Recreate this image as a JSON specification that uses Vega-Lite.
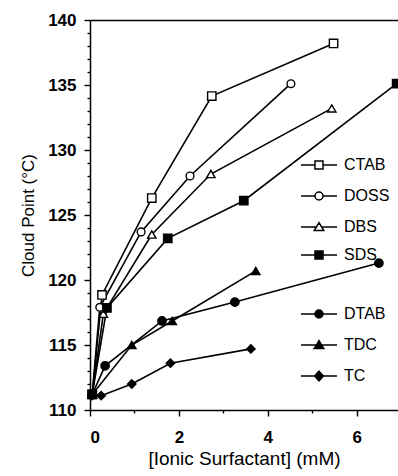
{
  "$schema": "https://vega.github.io/schema/vega-lite/v6.json",
  "width": 308,
  "height": 390,
  "autosize": {"type": "none"},
  "padding": {"left": 90, "top": 20, "right": 0, "bottom": 66},
  "background": "white",
  "config": {
    "view": {"stroke": null},
    "font": "Liberation Sans",
    "axis": {"domainColor": "black", "tickColor": "black", "labelColor": "black", "titleColor": "black", "grid": false}
  },
  "data": {
    "values": [
      {"series": "CTAB", "x": 0.05, "y": 111.2},
      {"series": "CTAB", "x": 0.27, "y": 118.85},
      {"series": "CTAB", "x": 1.39, "y": 126.3},
      {"series": "CTAB", "x": 2.74, "y": 134.15},
      {"series": "CTAB", "x": 5.48, "y": 138.2},
      {"series": "DOSS", "x": 0.05, "y": 111.2},
      {"series": "DOSS", "x": 0.22, "y": 117.9},
      {"series": "DOSS", "x": 1.15, "y": 123.7},
      {"series": "DOSS", "x": 2.25, "y": 128.0},
      {"series": "DOSS", "x": 4.52, "y": 135.1},
      {"series": "DBS", "x": 0.05, "y": 111.2},
      {"series": "DBS", "x": 0.3, "y": 117.4},
      {"series": "DBS", "x": 1.39, "y": 123.5},
      {"series": "DBS", "x": 2.72, "y": 128.15},
      {"series": "DBS", "x": 5.44, "y": 133.2},
      {"series": "SDS", "x": 0.05, "y": 111.2},
      {"series": "SDS", "x": 0.38, "y": 117.85},
      {"series": "SDS", "x": 1.75, "y": 123.2},
      {"series": "SDS", "x": 3.46, "y": 126.1},
      {"series": "SDS", "x": 6.9, "y": 135.1},
      {"series": "DTAB", "x": 0.05, "y": 111.2},
      {"series": "DTAB", "x": 0.34, "y": 113.4},
      {"series": "DTAB", "x": 1.62, "y": 116.85},
      {"series": "DTAB", "x": 3.26, "y": 118.3},
      {"series": "DTAB", "x": 6.5, "y": 121.3},
      {"series": "TDC", "x": 0.05, "y": 111.2},
      {"series": "TDC", "x": 0.94, "y": 115.0},
      {"series": "TDC", "x": 1.85, "y": 116.85},
      {"series": "TDC", "x": 3.73, "y": 120.7},
      {"series": "TC", "x": 0.05, "y": 111.1},
      {"series": "TC", "x": 0.25, "y": 111.1},
      {"series": "TC", "x": 0.94, "y": 112.0},
      {"series": "TC", "x": 1.81, "y": 113.6},
      {"series": "TC", "x": 3.62, "y": 114.7}
    ]
  },
  "layer": [
    {
      "mark": {"type": "line", "color": "black", "strokeWidth": 1.6},
      "encoding": {
        "x": {
          "field": "x", "type": "quantitative",
          "scale": {"domain": [0, 6.93], "nice": false, "zero": false},
          "axis": {"orient": "bottom", "values": [0, 0.5, 1, 1.5, 2, 2.5, 3, 3.5, 4, 4.5, 5, 5.5, 6, 6.5],
                   "format": "d",
                   "labelExpr": "datum.value % 2 === 0 ? datum.label : ''",
                   "tickSize": {"condition": {"test": "datum.value % 2 === 0", "value": 6}, "value": 3},
                   "tickWidth": 1.4, "domainWidth": 1.5,
                   "labelFontSize": 17, "labelFontWeight": "bold", "labelPadding": 13,
                   "title": "[Ionic Surfactant] (mM)", "titleFontSize": 19, "titleFontWeight": "normal", "titlePadding": 4}
        },
        "y": {
          "field": "y", "type": "quantitative",
          "scale": {"domain": [110, 140], "nice": false, "zero": false},
          "axis": {"orient": "left", "values": [110, 111, 112, 113, 114, 115, 116, 117, 118, 119, 120, 121, 122, 123, 124, 125, 126, 127, 128, 129, 130, 131, 132, 133, 134, 135, 136, 137, 138, 139, 140],
                   "format": "d",
                   "labelExpr": "datum.value % 5 === 0 ? datum.label : ''",
                   "tickSize": {"condition": {"test": "datum.value % 5 === 0", "value": 6}, "value": 3},
                   "tickWidth": 1.4, "domainWidth": 1.5,
                   "labelFontSize": 17, "labelFontWeight": "bold", "labelPadding": 8,
                   "title": "Cloud Point (°C)", "titleFontSize": 17, "titleFontWeight": "normal", "titlePadding": 10}
        },
        "detail": {"field": "series"}
      }
    },
    {
      "transform": [{"filter": {"field": "series", "equal": "CTAB"}}],
      "mark": {"type": "point", "shape": "square", "fill": "white", "stroke": "black", "strokeWidth": 1.4, "size": 70, "opacity": 1},
      "encoding": {
        "x": {"field": "x", "type": "quantitative", "axis": null},
        "y": {"field": "y", "type": "quantitative", "axis": null}
      }
    },
    {
      "transform": [{"filter": {"field": "series", "equal": "DOSS"}}],
      "mark": {"type": "point", "shape": "circle", "fill": "white", "stroke": "black", "strokeWidth": 1.4, "size": 60, "opacity": 1},
      "encoding": {
        "x": {"field": "x", "type": "quantitative", "axis": null},
        "y": {"field": "y", "type": "quantitative", "axis": null}
      }
    },
    {
      "transform": [{"filter": {"field": "series", "equal": "DBS"}}],
      "mark": {"type": "point", "shape": "triangle-up", "fill": "white", "stroke": "black", "strokeWidth": 1.4, "size": 70, "opacity": 1},
      "encoding": {
        "x": {"field": "x", "type": "quantitative", "axis": null},
        "y": {"field": "y", "type": "quantitative", "axis": null}
      }
    },
    {
      "transform": [{"filter": {"field": "series", "equal": "SDS"}}],
      "mark": {"type": "point", "shape": "square", "fill": "black", "stroke": "black", "strokeWidth": 1.4, "size": 70, "opacity": 1},
      "encoding": {
        "x": {"field": "x", "type": "quantitative", "axis": null},
        "y": {"field": "y", "type": "quantitative", "axis": null}
      }
    },
    {
      "transform": [{"filter": {"field": "series", "equal": "DTAB"}}],
      "mark": {"type": "point", "shape": "circle", "fill": "black", "stroke": "black", "strokeWidth": 1.4, "size": 70, "opacity": 1},
      "encoding": {
        "x": {"field": "x", "type": "quantitative", "axis": null},
        "y": {"field": "y", "type": "quantitative", "axis": null}
      }
    },
    {
      "transform": [{"filter": {"field": "series", "equal": "TDC"}}],
      "mark": {"type": "point", "shape": "triangle-up", "fill": "black", "stroke": "black", "strokeWidth": 1.4, "size": 70, "opacity": 1},
      "encoding": {
        "x": {"field": "x", "type": "quantitative", "axis": null},
        "y": {"field": "y", "type": "quantitative", "axis": null}
      }
    },
    {
      "transform": [{"filter": {"field": "series", "equal": "TC"}}],
      "mark": {"type": "point", "shape": "diamond", "fill": "black", "stroke": "black", "strokeWidth": 1.4, "size": 70, "opacity": 1},
      "encoding": {
        "x": {"field": "x", "type": "quantitative",
              "axis": {"orient": "top", "ticks": false, "labels": false, "title": null, "domainWidth": 1.5}},
        "y": {"field": "y", "type": "quantitative", "axis": null}
      }
    },
    {
      "transform": [{"filter": {"field": "series", "oneOf": ["CTAB", "DOSS", "DBS"]}}],
      "mark": {"type": "point", "filled": true, "fill": "white", "stroke": "black", "strokeWidth": 1.4, "size": 70, "opacity": 0},
      "encoding": {
        "x": {"field": "x", "type": "quantitative", "axis": null},
        "y": {"field": "y", "type": "quantitative", "axis": null},
        "shape": {
          "field": "series", "type": "nominal",
          "scale": {"domain": ["CTAB", "DOSS", "DBS"], "range": ["M-2.25,0H-0.5M0.5,0H2.25M-0.5,-0.5H0.5V0.5H-0.5Z", "M-2.25,0H-0.5M0.5,0H2.25M0.5,0A0.5,0.5,0,1,1,-0.5,0A0.5,0.5,0,1,1,0.5,0Z", "M-2.25,0H-0.33M0.33,0H2.25M0,-0.55L0.6,0.45H-0.6Z"]},
          "legend": {
            "orient": "none", "legendX": 220, "legendY": 136, "title": null, "padding": 0,
            "symbolOffset": 0, "labelOffset": 16, "labelFontSize": 16, "labelColor": "black", "rowPadding": 14,
            "symbolSize": 256,
            "encode": {"symbols": {"opacity": {"value": 1}, "fill": {"value": "white"}, "stroke": {"value": "black"}, "strokeWidth": {"value": 1.4}}}
          }
        }
      }
    },
    {
      "transform": [{"filter": {"field": "series", "equal": "SDS"}}],
      "mark": {"type": "point", "filled": true, "fill": "black", "stroke": "black", "strokeWidth": 1.4, "size": 70, "opacity": 0},
      "encoding": {
        "x": {"field": "x", "type": "quantitative", "axis": null},
        "y": {"field": "y", "type": "quantitative", "axis": null},
        "shape": {
          "field": "series", "type": "nominal",
          "scale": {"domain": ["SDS"], "range": ["M-2.25,0H-0.5M0.5,0H2.25M-0.5,-0.5H0.5V0.5H-0.5Z"]},
          "legend": {
            "orient": "none", "legendX": 220, "legendY": 226, "title": null, "padding": 0,
            "symbolOffset": 0, "labelOffset": 16, "labelFontSize": 16, "labelColor": "black", "rowPadding": 14,
            "symbolSize": 256,
            "encode": {"symbols": {"opacity": {"value": 1}, "fill": {"value": "black"}, "stroke": {"value": "black"}, "strokeWidth": {"value": 1.4}}}
          }
        }
      }
    },
    {
      "transform": [{"filter": {"field": "series", "oneOf": ["DTAB", "TDC", "TC"]}}],
      "mark": {"type": "point", "filled": true, "fill": "black", "stroke": "black", "strokeWidth": 1.4, "size": 70, "opacity": 0},
      "encoding": {
        "x": {"field": "x", "type": "quantitative", "axis": null},
        "y": {"field": "y", "type": "quantitative", "axis": null},
        "shape": {
          "field": "series", "type": "nominal",
          "scale": {"domain": ["DTAB", "TDC", "TC"], "range": ["M-2.25,0H-0.5M0.5,0H2.25M0.5,0A0.5,0.5,0,1,1,-0.5,0A0.5,0.5,0,1,1,0.5,0Z", "M-2.25,0H-0.33M0.33,0H2.25M0,-0.55L0.6,0.45H-0.6Z", "M-2.25,0H-0.55M0.55,0H2.25M0,-0.6L0.55,0L0,0.6L-0.55,0Z"]},
          "legend": {
            "orient": "none", "legendX": 220, "legendY": 285, "title": null, "padding": 0,
            "symbolOffset": 0, "labelOffset": 16, "labelFontSize": 16, "labelColor": "black", "rowPadding": 14,
            "symbolSize": 256,
            "encode": {"symbols": {"opacity": {"value": 1}, "fill": {"value": "black"}, "stroke": {"value": "black"}, "strokeWidth": {"value": 1.4}}}
          }
        }
      }
    }
  ],
  "resolve": {
    "scale": {"shape": "independent"},
    "axis": {"x": "independent", "y": "independent"}
  }
}
